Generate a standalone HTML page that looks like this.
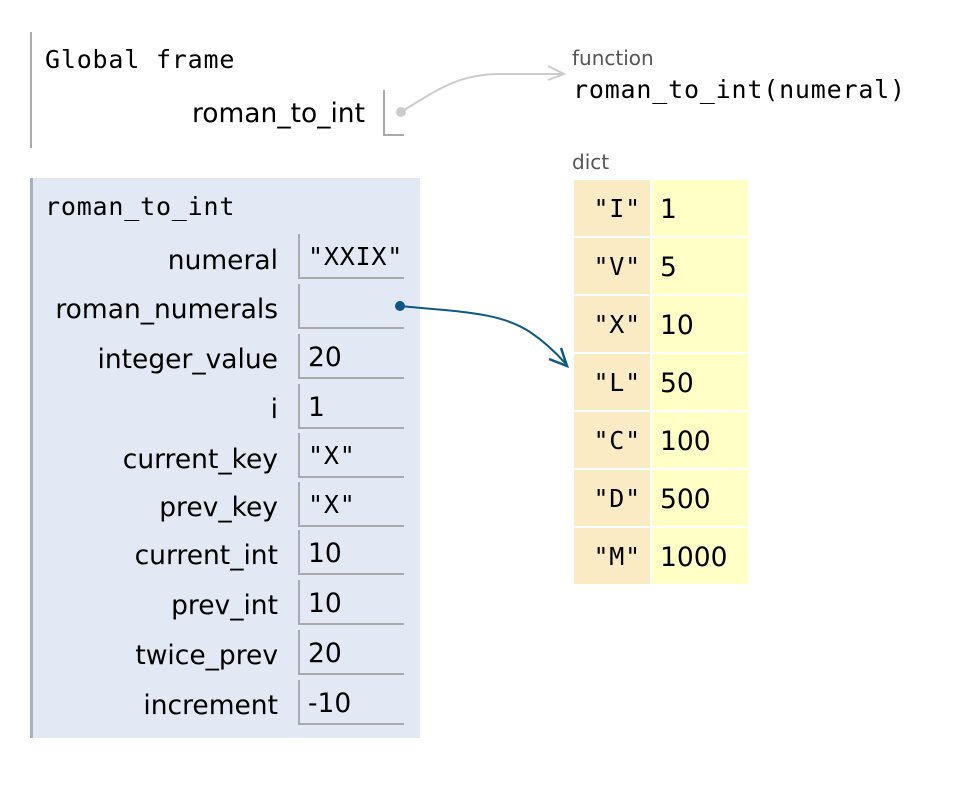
<!DOCTYPE html>
<html><head><meta charset="utf-8"><style>
body{margin:0;width:974px;height:800px;background:#fff;position:relative;overflow:hidden}
.a{position:absolute;white-space:nowrap}
.m{font-family:"DejaVu Sans Mono","Liberation Mono",monospace;font-size:25px;letter-spacing:0.8px}
.s{font-family:"DejaVu Sans","Liberation Sans",sans-serif;font-size:26.5px}
.lab{position:absolute;right:696px;text-align:right;margin-top:2px}
.box{position:absolute;left:298px;width:104px;height:43px;border-left:2px solid #aaa;border-bottom:2px solid #aaa}
.box span{position:absolute;left:8px;top:8px}
.k{position:absolute;left:574px;width:76px;height:56px;background:#faebc5}
.v{position:absolute;left:652px;width:96px;height:56px;background:#ffffc6}
.k span{position:absolute;right:9px;top:14px}
.v span{position:absolute;left:8px;top:14px}
</style></head><body>
<div class="a" style="left:30px;top:32px;width:2px;height:116px;background:#aaa"></div>
<div class="a m" style="left:45px;top:45px">Global frame</div>
<div class="a s" style="right:609px;top:98px">roman_to_int</div>
<div class="a" style="left:383px;top:90px;width:19px;height:44px;border-left:2px solid #aaa;border-bottom:2px solid #aaa"></div>

<div class="a" style="left:30px;top:178px;width:390px;height:560px;background:#e2e9f4;border-left:3px solid #aab0b8;box-sizing:border-box"></div>
<div class="a m" style="left:45px;top:192px">roman_to_int</div>

<div class="a s lab" style="top:243px">numeral</div>
<div class="box" style="top:234px"><span class="m">"XXIX"</span></div>
<div class="a s lab" style="top:292px">roman_numerals</div>
<div class="box" style="top:284px"></div>
<div class="a s lab" style="top:342px">integer_value</div>
<div class="box" style="top:334px"><span class="s">20</span></div>
<div class="a s lab" style="top:392px">i</div>
<div class="box" style="top:384px"><span class="s">1</span></div>
<div class="a s lab" style="top:442px">current_key</div>
<div class="box" style="top:433px"><span class="m">"X"</span></div>
<div class="a s lab" style="top:490px">prev_key</div>
<div class="box" style="top:482px"><span class="m">"X"</span></div>
<div class="a s lab" style="top:538px">current_int</div>
<div class="box" style="top:530px"><span class="s">10</span></div>
<div class="a s lab" style="top:588px">prev_int</div>
<div class="box" style="top:580px"><span class="s">10</span></div>
<div class="a s lab" style="top:638px">twice_prev</div>
<div class="box" style="top:630px"><span class="s">20</span></div>
<div class="a s lab" style="top:688px">increment</div>
<div class="box" style="top:680px"><span class="s">-10</span></div>

<div class="a" style="left:572px;top:46px;font-family:'DejaVu Sans','Liberation Sans',sans-serif;font-size:20px;color:#555">function</div>
<div class="a m" style="left:573px;top:75px">roman_to_int(numeral)</div>
<div class="a" style="left:572px;top:150px;font-family:'DejaVu Sans','Liberation Sans',sans-serif;font-size:20px;color:#555">dict</div>

<div class="k" style="top:180px"><span class="m">"I"</span></div><div class="v" style="top:180px"><span class="s">1</span></div>
<div class="k" style="top:238px"><span class="m">"V"</span></div><div class="v" style="top:238px"><span class="s">5</span></div>
<div class="k" style="top:296px"><span class="m">"X"</span></div><div class="v" style="top:296px"><span class="s">10</span></div>
<div class="k" style="top:354px"><span class="m">"L"</span></div><div class="v" style="top:354px"><span class="s">50</span></div>
<div class="k" style="top:412px"><span class="m">"C"</span></div><div class="v" style="top:412px"><span class="s">100</span></div>
<div class="k" style="top:470px"><span class="m">"D"</span></div><div class="v" style="top:470px"><span class="s">500</span></div>
<div class="k" style="top:528px"><span class="m">"M"</span></div><div class="v" style="top:528px"><span class="s">1000</span></div>

<svg class="a" style="left:0;top:0" width="974" height="800">
<circle cx="401" cy="112" r="5" fill="#ccc"/>
<path d="M401 112 C440 88 460 74 500 74 L562 74" fill="none" stroke="#ccc" stroke-width="2"/>
<path d="M548 66 L564 74 L548 80" fill="none" stroke="#ccc" stroke-width="2"/>
<circle cx="400" cy="306" r="5" fill="#0c5886"/>
<path d="M400 306 C460 312 500 312 530 332 C545 342 558 355 566 364" fill="none" stroke="#0c5886" stroke-width="2"/>
<path d="M549 359 L567 366 L561 348" fill="none" stroke="#0c5886" stroke-width="2.5"/>
</svg>
</body></html>
